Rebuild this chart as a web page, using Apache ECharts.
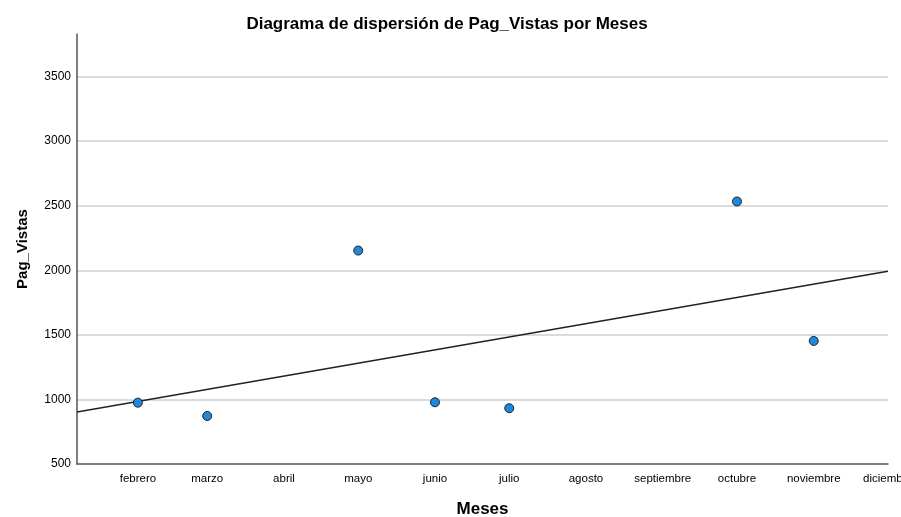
<!DOCTYPE html>
<html>
<head>
<meta charset="utf-8">
<script src="https://cdn.jsdelivr.net/npm/echarts@6/dist/echarts.min.js"></script>
<style>
  html, body { margin: 0; padding: 0; background: #fff; }
  #chart { width: 901px; height: 517px; }
</style>
</head>
<body>
<div id="chart"></div>
<script>
// x axis: first day of each month (dates), labelled with the month name
var months = ["febrero", "marzo", "abril", "mayo", "junio", "julio", "agosto",
  "septiembre", "octubre", "noviembre", "diciembre"];
var monthDates = ["2019-02-01", "2019-03-01", "2019-04-01", "2019-05-01", "2019-06-01",
  "2019-07-01", "2019-08-01", "2019-09-01", "2019-10-01", "2019-11-01", "2019-12-01"];
var pointDates = ["2019-02-01", "2019-03-01", "2019-05-01", "2019-06-01",
  "2019-07-01", "2019-10-01", "2019-11-01"];
var pagVistas = [975, 872, 2153, 978, 932, 2533, 1453];
var yTicks = [500, 1000, 1500, 2000, 2500, 3000, 3500];

// day of year
function doy(s) {
  var d = new Date(s + "T00:00:00Z");
  return Math.round((d - Date.UTC(d.getUTCFullYear(), 0, 1)) / 86400000) + 1;
}

var monthDays = monthDates.map(doy);
var pointDays = pointDates.map(doy);
var xMin = 7.4, xMax = doy("2019-12-01");

// least squares fit line
function fitLine(xs, ys) {
  var n = xs.length, mx = 0, my = 0;
  for (var i = 0; i < n; i++) { mx += xs[i]; my += ys[i]; }
  mx /= n; my /= n;
  var sxy = 0, sxx = 0;
  for (var j = 0; j < n; j++) {
    sxy += (xs[j] - mx) * (ys[j] - my);
    sxx += (xs[j] - mx) * (xs[j] - mx);
  }
  var b = sxy / sxx, a = my - b * mx;
  return [[xMin, a + b * xMin], [xMax, a + b * xMax]];
}

var points = pointDays.map(function (d, i) { return [d, pagVistas[i]]; });
var font = "'Liberation Sans', Arial, sans-serif";

var chart = echarts.init(document.getElementById("chart"));
chart.setOption({
  animation: false,
  title: {
    text: "Diagrama de dispersión de Pag_Vistas por Meses",
    left: 442,
    textAlign: "center",
    top: 11,
    textStyle: { fontFamily: font, fontSize: 17, fontWeight: "bold", color: "#000" }
  },
  grid: { left: 77, right: 13, top: 34, bottom: 53, outerBoundsMode: "none", containLabel: false },
  xAxis: {
    type: "value",
    min: xMin,
    max: xMax,
    name: "Meses",
    nameLocation: "middle",
    nameGap: 37,
    nameTextStyle: { fontFamily: font, fontSize: 17, fontWeight: "bold", color: "#000" },
    axisLine: { lineStyle: { color: "#555", width: 1.5 } },
    axisTick: { show: false },
    splitLine: { show: false },
    axisLabel: {
      customValues: monthDays,
      formatter: function (v) { return months[monthDays.indexOf(v)]; },
      fontFamily: font, fontSize: 11.5, color: "#000", margin: 9
    }
  },
  yAxis: {
    type: "value",
    min: 500,
    max: 3830,
    interval: 500,
    name: "Pag_Vistas",
    nameLocation: "middle",
    nameGap: 47,
    nameTextStyle: { fontFamily: font, fontSize: 15, fontWeight: "bold", color: "#000" },
    axisLine: { show: true, lineStyle: { color: "#555", width: 1.5 } },
    axisTick: { show: false },
    splitLine: { show: true, showMinLine: false, showMaxLine: false, lineStyle: { color: "#cfcfcf", width: 1.5 } },
    axisLabel: {
      customValues: yTicks,
      formatter: function (v) { return String(v); },
      fontFamily: font, fontSize: 12, color: "#000", margin: 6
    }
  },
  series: [
    {
      type: "line",
      data: fitLine(pointDays, pagVistas),
      symbol: "none",
      lineStyle: { color: "#222", width: 1.5 },
      z: 2
    },
    {
      type: "scatter",
      data: points,
      symbolSize: 9,
      itemStyle: { color: "#1f88dc", borderColor: "#222", borderWidth: 1, opacity: 1 },
      z: 3
    }
  ]
});
</script>
</body>
</html>
